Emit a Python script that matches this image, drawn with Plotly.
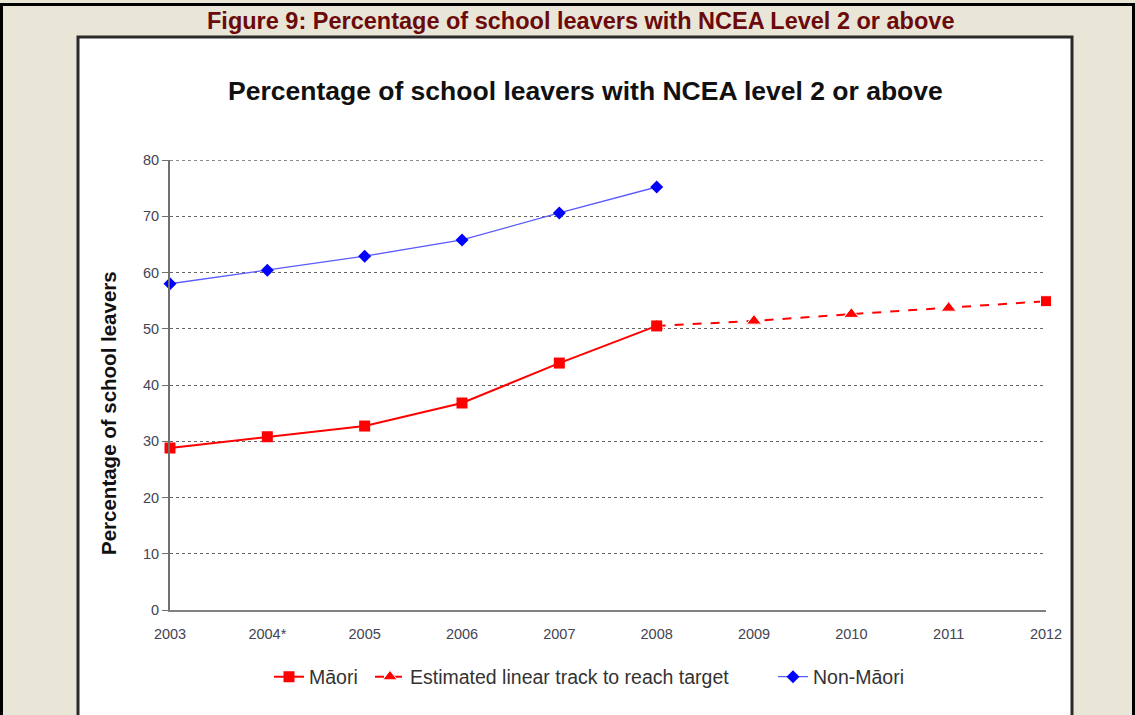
import plotly.graph_objects as go

# ---- data ----
years = ["2003", "2004*", "2005", "2006", "2007", "2008", "2009", "2010", "2011", "2012"]
maori_years = ["2003", "2004*", "2005", "2006", "2007", "2008"]
maori = [28.8, 30.8, 32.7, 36.8, 43.9, 50.5]
nonmaori = [58.0, 60.4, 62.9, 65.8, 70.6, 75.2]
est_years = ["2008", "2009", "2010", "2011", "2012"]
estimated = [50.5, 51.4, 52.6, 53.7, 54.9]
est_symbols = ["triangle-up", "triangle-up", "triangle-up", "triangle-up", "square"]
est_sizes = [13, 13, 13, 13, 11]

W, H = 1135, 715
L, R, T, B = 170, 1046, 160, 610


def xp(px):
    return (px - L) / (R - L)


def yp(py):
    return (B - py) / (B - T)


FONT = "Liberation Sans, Arial, sans-serif"

fig = go.Figure()

fig.add_trace(go.Scatter(
    x=est_years, y=estimated, name="Estimated linear track to reach target",
    mode="lines+markers", line=dict(color="#FF0000", width=2, dash="dash"),
    marker=dict(symbol=est_symbols, size=est_sizes, color="#FF0000", opacity=1),
    cliponaxis=False, legend="legend2",
))
fig.add_trace(go.Scatter(
    x=maori_years, y=maori, name="Māori",
    mode="lines+markers", line=dict(color="#FF0000", width=2),
    marker=dict(symbol="square", size=11, color="#FF0000"),
    cliponaxis=False, legend="legend",
))
fig.add_trace(go.Scatter(
    x=maori_years, y=nonmaori, name="Non-Māori",
    mode="lines+markers", line=dict(color="#5A5AFF", width=1.3),
    marker=dict(symbol="diamond", size=10, color="#0000FF"),
    cliponaxis=False, legend="legend3",
))

shapes = [
    # white chart frame
    dict(type="rect", xref="paper", yref="paper", layer="below",
         x0=xp(78), x1=xp(1072), y0=yp(740), y1=yp(37),
         fillcolor="white", line=dict(color="#2a2a2a", width=3)),
    # top gridline at 80
    dict(type="line", xref="paper", yref="y", layer="below",
         x0=0, x1=1, y0=80, y1=80,
         line=dict(color="#666666", width=1.3, dash="dot")),
    # outer page border
    dict(type="rect", xref="paper", yref="paper", layer="above",
         x0=xp(1.5), x1=xp(1133.5), y0=yp(740), y1=yp(4.5),
         fillcolor="rgba(0,0,0,0)", line=dict(color="black", width=3)),
]

annotations = [
    dict(text="<b>Figure 9: Percentage of school leavers with NCEA Level 2 or above</b>",
         xref="paper", yref="paper", x=xp(580), y=yp(21), showarrow=False,
         xanchor="center", yanchor="middle",
         font=dict(family=FONT, size=23.5, color="#6B0A0A")),
    dict(text="<b>Percentage of school leavers with NCEA level 2 or above</b>",
         xref="paper", yref="paper", x=xp(585), y=yp(91), showarrow=False,
         xanchor="center", yanchor="middle",
         font=dict(family=FONT, size=26.5, color="#111111")),
    dict(text="<b>Percentage of school leavers</b>",
         xref="paper", yref="paper", x=xp(108), y=yp(413), showarrow=False,
         xanchor="center", yanchor="middle", textangle=-90,
         font=dict(family=FONT, size=20.5, color="#111111")),
]

leg_font = dict(family=FONT, size=19.5, color="#333333")
leg_common = dict(orientation="h", xanchor="left", yanchor="middle",
                  bgcolor="rgba(0,0,0,0)", font=leg_font, itemwidth=30)

fig.update_layout(
    width=W, height=H,
    margin=dict(l=L, r=W - R, t=T, b=H - B, pad=0),
    paper_bgcolor="#E9E5D7",
    plot_bgcolor="rgba(0,0,0,0)",
    showlegend=True,
    legend=dict(x=xp(269), y=yp(677), **leg_common),
    legend2=dict(x=xp(370), y=yp(677), **leg_common),
    legend3=dict(x=xp(773), y=yp(677), **leg_common),
    xaxis=dict(type="category", categoryorder="array", categoryarray=years,
               range=[0, len(years) - 1], showgrid=False,
               showline=True, linecolor="#808080", linewidth=2,
               ticks="", tickfont=dict(family=FONT, size=14.5, color="#444454"),
               ticklabelstandoff=10, zeroline=False, fixedrange=True),
    yaxis=dict(range=[0, 80], dtick=10, showgrid=True, gridcolor="#666666",
               griddash="dot", gridwidth=1.3,
               showline=True, linecolor="#707070", linewidth=2,
               ticks="outside", ticklen=6, tickcolor="#707070",
               tickfont=dict(family=FONT, size=14.5, color="#444454"),
               zeroline=False, fixedrange=True),
    shapes=shapes,
    annotations=annotations,
)

fig.write_html("out.html",
               config={"displayModeBar": False},
               post_script="document.body.style.margin='0';document.body.style.overflow='hidden';")
